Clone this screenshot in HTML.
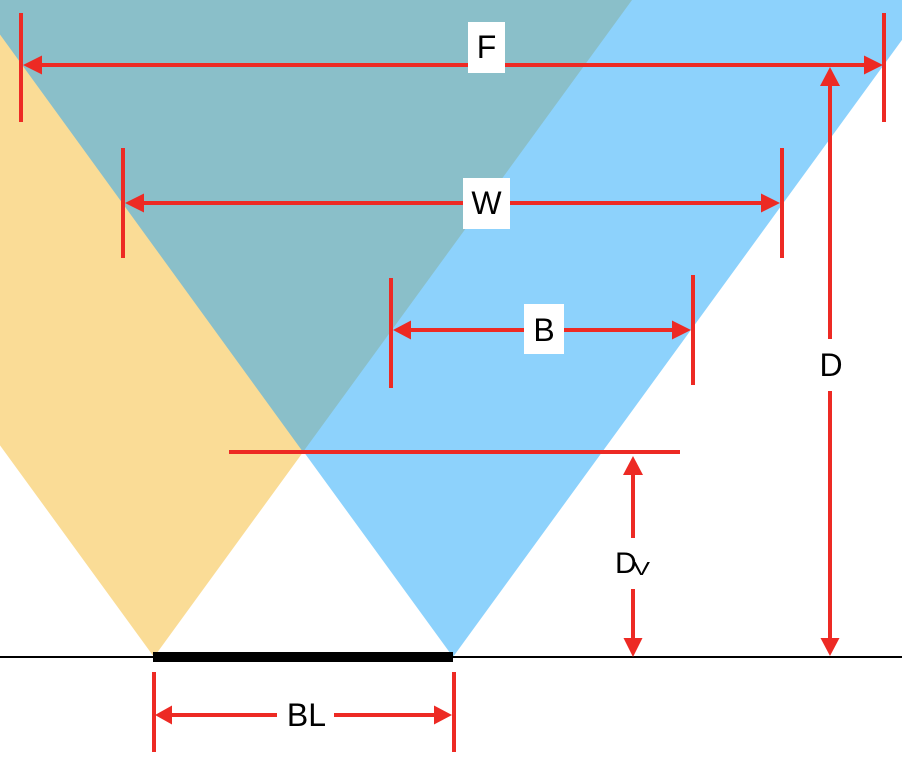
<!DOCTYPE html>
<html>
<head>
<meta charset="utf-8">
<style>
  html, body { margin: 0; padding: 0; background: #ffffff; }
  svg { display: block; }
  text { font-family: "Liberation Sans", Arial, sans-serif; fill: #000; }
</style>
</head>
<body>
<svg width="902" height="778" viewBox="0 0 902 778" xmlns="http://www.w3.org/2000/svg">
  <rect x="0" y="0" width="902" height="778" fill="#ffffff"/>
  <!-- orange cone -->
  <polygon points="154,657 -324,0 632,0" fill="#FADC96"/>
  <!-- blue cone -->
  <polygon points="453,657 -25,0 931,0" fill="#8DD2FC"/>
  <!-- overlap -->
  <polygon points="303,452 632,0 -25,0" fill="#8ABFC9"/>

  <!-- baseline -->
  <rect x="0" y="656" width="902" height="2" fill="#000"/>
  <rect x="153" y="652" width="300" height="10" fill="#000"/>

  <g fill="#ED2A24">
    <!-- F -->
    <rect x="19" y="13" width="4" height="109"/>
    <rect x="882" y="13" width="4" height="109"/>
    <rect x="30" y="63" width="845" height="4"/>
    <polygon points="23,65 42,55.5 42,74.5"/>
    <polygon points="883,65 864,55.5 864,74.5"/>

    <!-- W -->
    <rect x="121" y="148" width="4" height="110"/>
    <rect x="780" y="148" width="4" height="110"/>
    <rect x="135" y="201" width="635" height="4"/>
    <polygon points="125,203 144,193.5 144,212.5"/>
    <polygon points="780,203 761,193.5 761,212.5"/>

    <!-- B -->
    <rect x="389" y="278" width="4" height="110"/>
    <rect x="691" y="275" width="4" height="110"/>
    <rect x="400" y="328" width="280" height="4"/>
    <polygon points="393,330 411,320.5 411,339.5"/>
    <polygon points="691,330 672,320.5 672,339.5"/>

    <!-- horizontal at Dv level -->
    <rect x="229" y="450" width="451" height="4"/>

    <!-- Dv arrow -->
    <rect x="631" y="470" width="4" height="68"/>
    <rect x="631" y="589" width="4" height="55"/>
    <polygon points="633,456 623,475 643,475"/>
    <polygon points="633,657 623.5,638 642.5,638"/>

    <!-- D arrow -->
    <rect x="828" y="80" width="4" height="259"/>
    <rect x="828" y="391" width="4" height="252"/>
    <polygon points="830,67 820,86 840,86"/>
    <polygon points="830,656 820.5,638 839.5,638"/>

    <!-- BL -->
    <rect x="152" y="672" width="4" height="80"/>
    <rect x="452" y="672" width="4" height="80"/>
    <rect x="165" y="713" width="112" height="4"/>
    <rect x="334" y="713" width="108" height="4"/>
    <polygon points="155,715 172,705.5 172,724.5"/>
    <polygon points="452,715 434,705.5 434,724.5"/>
  </g>

  <!-- label boxes -->
  <rect x="468" y="22" width="37" height="51" fill="#fff"/>
  <rect x="463" y="178" width="47" height="51" fill="#fff"/>
  <rect x="524" y="304" width="40" height="50" fill="#fff"/>

  <text x="486.5" y="58" font-size="32" text-anchor="middle">F</text>
  <text x="486.5" y="214" font-size="32" text-anchor="middle">W</text>
  <text x="544" y="341" font-size="32" text-anchor="middle">B</text>
  <text x="831" y="376" font-size="32" text-anchor="middle">D</text>
  <text x="306.5" y="726" font-size="32" text-anchor="middle">BL</text>
  <text x="615" y="573" font-size="30">D</text>
  <text x="633" y="575" font-size="18" textLength="17" lengthAdjust="spacingAndGlyphs">V</text>
</svg>
</body>
</html>
